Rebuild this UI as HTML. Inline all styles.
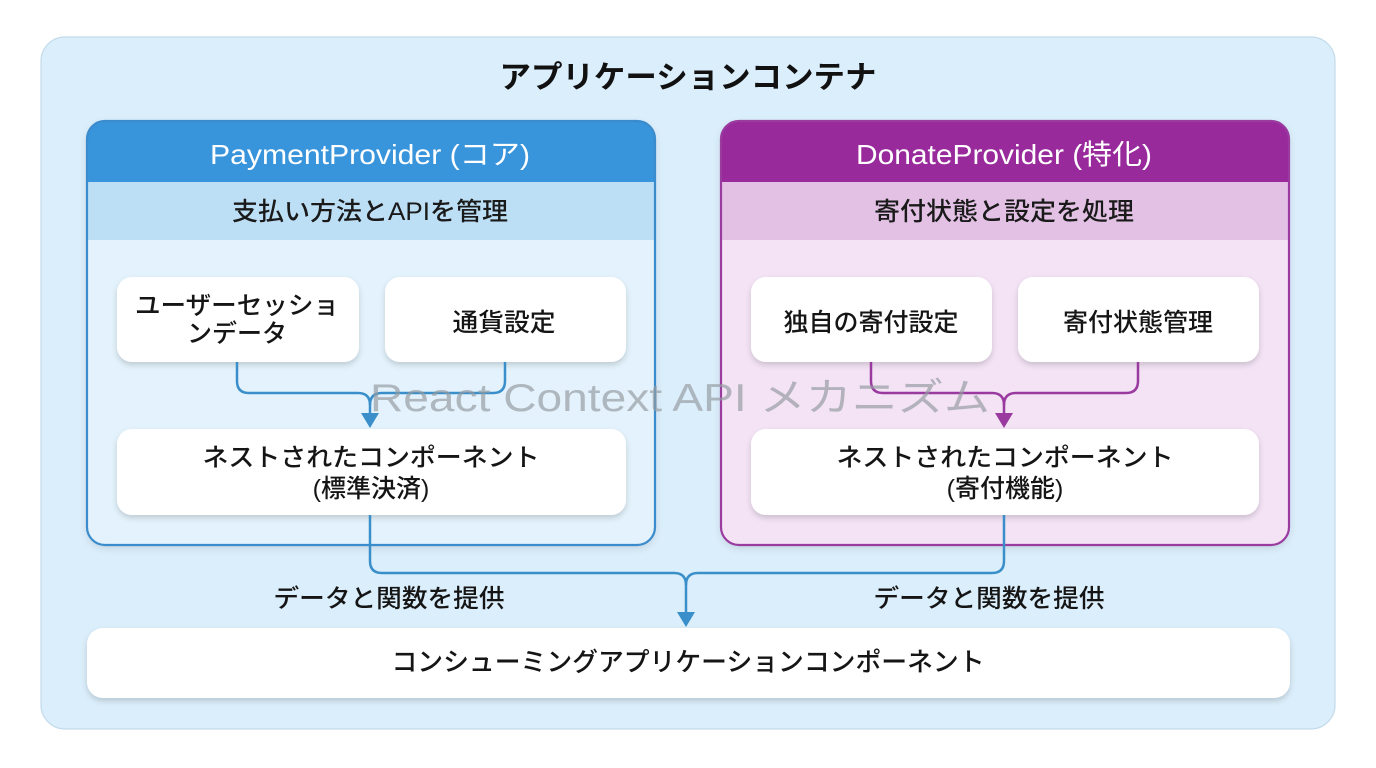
<!DOCTYPE html>
<html><head><meta charset="utf-8">
<style>
html,body{margin:0;padding:0;background:#ffffff;}
body{width:1376px;height:768px;overflow:hidden;}
svg{display:block;}
.jp{font-family:"Liberation Sans","Noto Sans CJK JP",sans-serif;}
</style></head>
<body>
<svg width="1376" height="768" viewBox="0 0 1376 768" xmlns="http://www.w3.org/2000/svg">
<defs>
  <filter id="sh" x="-10%" y="-20%" width="120%" height="150%">
    <feDropShadow dx="0" dy="3" stdDeviation="3" flood-color="#000" flood-opacity="0.16"/>
  </filter>
  <filter id="sh2" x="-10%" y="-10%" width="120%" height="130%">
    <feDropShadow dx="0" dy="3" stdDeviation="4" flood-color="#000" flood-opacity="0.12"/>
  </filter>
  <clipPath id="cpL"><rect x="87" y="121" width="568" height="424" rx="18"/></clipPath>
  <clipPath id="cpR"><rect x="721" y="121" width="568" height="424" rx="18"/></clipPath>
</defs>

<!-- outer container -->
<rect x="41" y="37" width="1294" height="692" rx="24" fill="#dbeefb" stroke="#c3dbea" stroke-width="1.2"/>
<text x="688" y="88" text-anchor="middle" class="jp" font-size="31" font-weight="bold" fill="#111" textLength="377" lengthAdjust="spacingAndGlyphs">アプリケーションコンテナ</text>

<!-- Payment provider -->
<g filter="url(#sh2)">
<g clip-path="url(#cpL)">
  <rect x="87" y="121" width="568" height="424" fill="#e3f2fc"/>
  <rect x="87" y="121" width="568" height="61" fill="#3894db"/>
  <rect x="87" y="182" width="568" height="58" fill="#bcdff6"/>
</g>
</g>
<rect x="87" y="121" width="568" height="424" rx="18" fill="none" stroke="#3a8ccc" stroke-width="2.2"/>
<text x="370" y="164" text-anchor="middle" class="jp" font-size="28" fill="#ffffff" textLength="320" lengthAdjust="spacingAndGlyphs">PaymentProvider (コア)</text>
<text x="370" y="220" text-anchor="middle" class="jp" font-size="25" font-weight="500" fill="#1a1a1a" textLength="276" lengthAdjust="spacingAndGlyphs">支払い方法とAPIを管理</text>

<!-- Donate provider -->
<g filter="url(#sh2)">
<g clip-path="url(#cpR)">
  <rect x="721" y="121" width="568" height="424" fill="#f3e3f5"/>
  <rect x="721" y="121" width="568" height="61" fill="#982a9c"/>
  <rect x="721" y="182" width="568" height="58" fill="#e3c1e5"/>
</g>
</g>
<rect x="721" y="121" width="568" height="424" rx="18" fill="none" stroke="#9a3ba0" stroke-width="2.2"/>
<text x="1004" y="164" text-anchor="middle" class="jp" font-size="28" fill="#ffffff" textLength="296" lengthAdjust="spacingAndGlyphs">DonateProvider (特化)</text>
<text x="1004" y="220" text-anchor="middle" class="jp" font-size="25" font-weight="500" fill="#1a1a1a" textLength="260" lengthAdjust="spacingAndGlyphs">寄付状態と設定を処理</text>

<!-- inner boxes -->
<g filter="url(#sh)">
  <rect x="117" y="277" width="242" height="85" rx="15" fill="#fff"/>
  <rect x="385" y="277" width="241" height="85" rx="15" fill="#fff"/>
  <rect x="117" y="429" width="509" height="86" rx="15" fill="#fff"/>
  <rect x="751" y="277" width="241" height="85" rx="15" fill="#fff"/>
  <rect x="1018" y="277" width="241" height="85" rx="15" fill="#fff"/>
  <rect x="751" y="429" width="508" height="86" rx="15" fill="#fff"/>
  <rect x="87" y="628" width="1203" height="70" rx="16" fill="#fff"/>
</g>

<g class="jp" font-size="25" font-weight="500" fill="#151515" text-anchor="middle">
  <text x="237" y="314" textLength="204" lengthAdjust="spacingAndGlyphs">ユーザーセッショ</text>
  <text x="237" y="342">ンデータ</text>
  <text x="504" y="331" textLength="103" lengthAdjust="spacingAndGlyphs">通貨設定</text>
  <text x="371" y="466" textLength="337" lengthAdjust="spacingAndGlyphs">ネストされたコンポーネント</text>
  <text x="371" y="497">(標準決済)</text>

  <text x="871" y="331">独自の寄付設定</text>
  <text x="1138" y="331">寄付状態管理</text>
  <text x="1005" y="466" textLength="337" lengthAdjust="spacingAndGlyphs">ネストされたコンポーネント</text>
  <text x="1005" y="497">(寄付機能)</text>

  <text x="389" y="607" textLength="231" lengthAdjust="spacingAndGlyphs">データと関数を提供</text>
  <text x="989" y="607" textLength="231" lengthAdjust="spacingAndGlyphs">データと関数を提供</text>
  <text x="688" y="671" font-size="26" textLength="593" lengthAdjust="spacingAndGlyphs">コンシューミングアプリケーションコンポーネント</text>
</g>

<!-- connectors left (blue) -->
<g fill="none" stroke="#3a8fca" stroke-width="2.5">
  <path d="M237,362 V381 Q237,393 249,393 H358 Q370,393 370,405 V414"/>
  <path d="M505,362 V381 Q505,393 493,393 H382 Q370,393 370,405"/>
</g>
<polygon points="361,413 379,413 370,428" fill="#3a8fca"/>

<!-- connectors right (purple) -->
<g fill="none" stroke="#9a3aa0" stroke-width="2.5">
  <path d="M871,362 V381 Q871,393 883,393 H992 Q1004,393 1004,405 V414"/>
  <path d="M1138,362 V381 Q1138,393 1126,393 H1016 Q1004,393 1004,405"/>
</g>
<polygon points="995,413 1013,413 1004,428" fill="#9a3aa0"/>

<!-- bottom connectors -->
<g fill="none" stroke="#3a8fca" stroke-width="2.5">
  <path d="M370,515 V561 Q370,573 382,573 H674 Q686,573 686,585 V613"/>
  <path d="M1004,515 V561 Q1004,573 992,573 H698 Q686,573 686,585"/>
</g>
<polygon points="677,612 695,612 686,627" fill="#3a8fca"/>

<!-- watermark -->
<text x="680" y="411" text-anchor="middle" class="jp" font-size="39" fill="#959ba1" fill-opacity="0.68" textLength="620" lengthAdjust="spacingAndGlyphs">React Context API メカニズム</text>
</svg>
</body></html>
